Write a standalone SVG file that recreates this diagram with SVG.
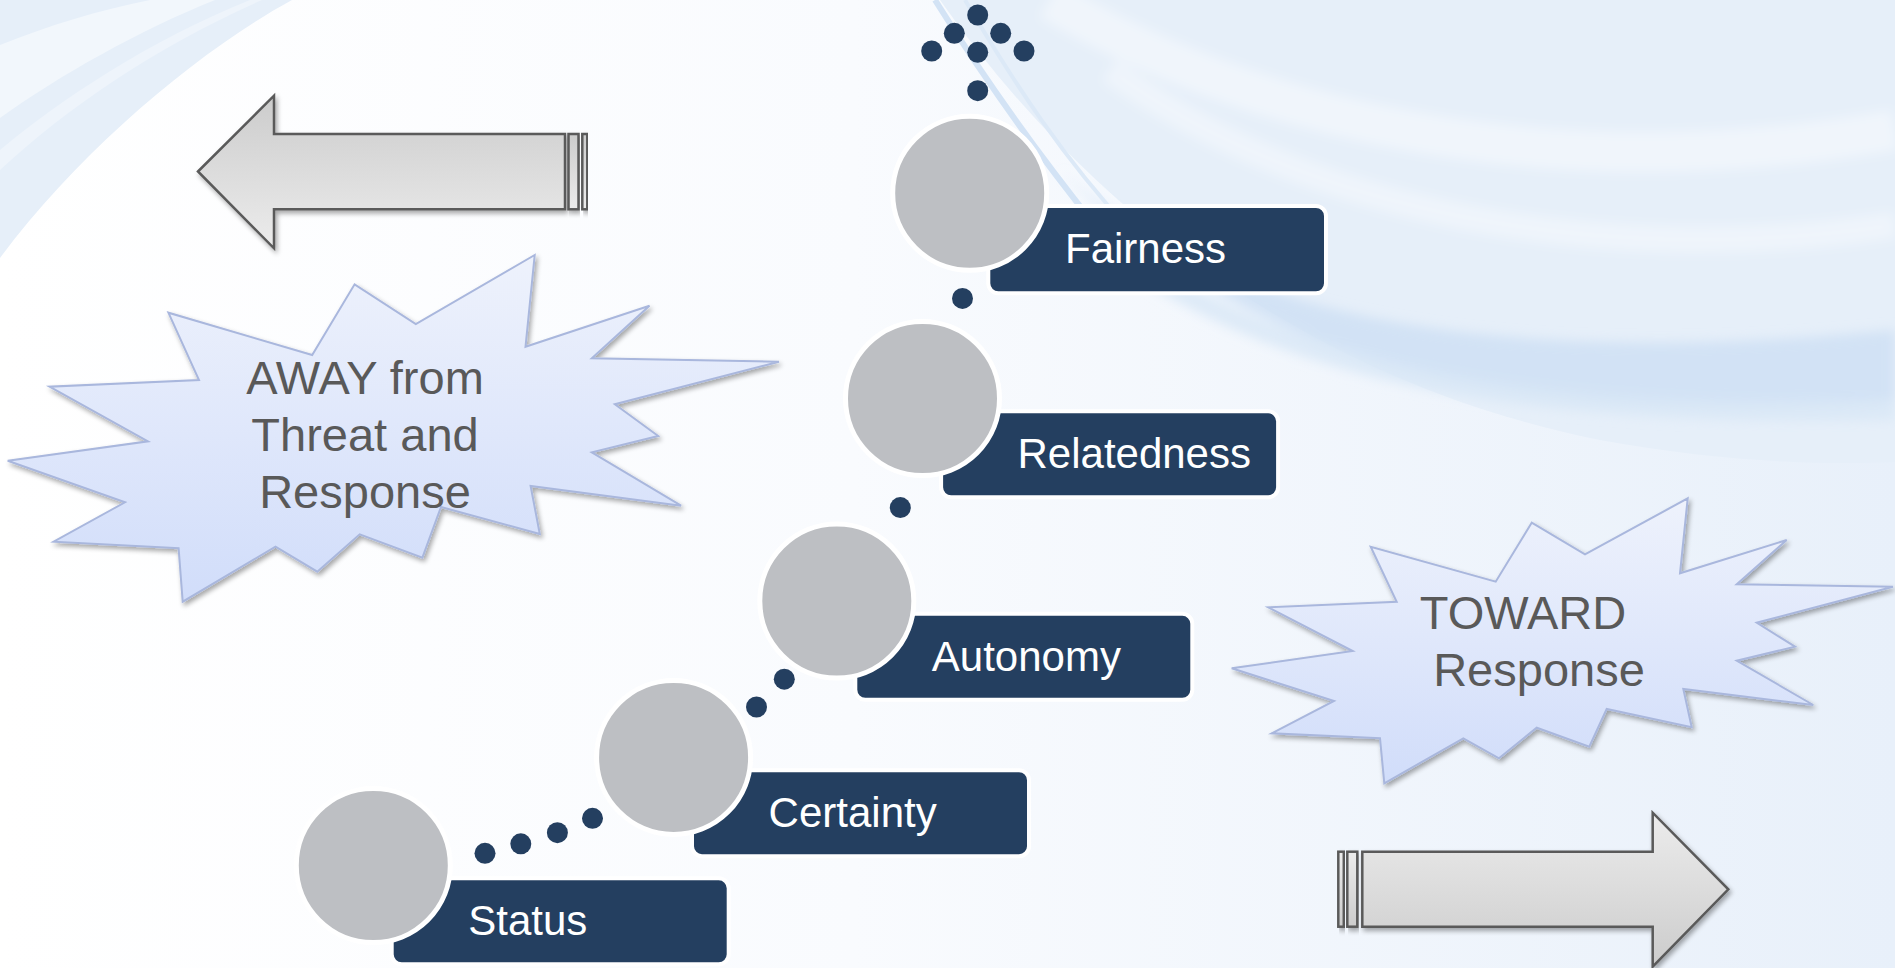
<svg xmlns="http://www.w3.org/2000/svg" width="1895" height="968" viewBox="0 0 1895 968">
<defs>
<style>
.lbl{font-family:"Liberation Sans",Arial,sans-serif;font-size:42px;fill:#ffffff}
.burst-t{font-family:"Liberation Sans",Arial,sans-serif;font-size:47px;fill:#595959;text-anchor:middle}
.box{fill:#243f60;stroke:#ffffff;stroke-width:4}
.disc{fill:#bdbfc3;stroke:#ffffff;stroke-width:5}
.dot{fill:#243f60}
.burst{fill:url(#gBurst);stroke:#a9b7dd;stroke-width:2;filter:url(#shadow)}
.arr{stroke:#5a5a5a;stroke-width:2.5;filter:url(#shadow)}
</style>
<linearGradient id="gBg" x1="0" y1="0" x2="1" y2="0">
<stop offset="0" stop-color="#ffffff"/>
<stop offset="0.45" stop-color="#f9fbfe"/>
<stop offset="1" stop-color="#e8f0fa"/>
</linearGradient>
<linearGradient id="gBurst" x1="0" y1="0" x2="0" y2="1">
<stop offset="0" stop-color="#eef2fc"/>
<stop offset="1" stop-color="#d1ddfa"/>
</linearGradient>
<linearGradient id="gArrL" x1="0" y1="0" x2="0" y2="1">
<stop offset="0" stop-color="#cccccc"/>
<stop offset="1" stop-color="#ececec"/>
</linearGradient>
<linearGradient id="gArrR" x1="0" y1="0" x2="0" y2="1">
<stop offset="0" stop-color="#ececec"/>
<stop offset="1" stop-color="#cccccc"/>
</linearGradient>
<filter id="shadow" x="-10%" y="-10%" width="120%" height="130%">
<feGaussianBlur in="SourceAlpha" stdDeviation="2.5"/>
<feOffset dx="2" dy="3" result="b"/>
<feComponentTransfer><feFuncA type="linear" slope="0.35"/></feComponentTransfer>
<feMerge><feMergeNode/><feMergeNode in="SourceGraphic"/></feMerge>
</filter>
<filter id="soft" x="-5%" y="-5%" width="110%" height="110%">
<feGaussianBlur stdDeviation="6"/>
</filter>
</defs>

<g id="background">
<rect x="0" y="0" width="1895" height="968" fill="url(#gBg)"/>
<path d="M0,0 L292,0 C200,50 80,150 0,258 Z" fill="#e6eff9"/>
<path d="M0,45 C50,25 100,10 150,0 L215,0 C140,30 60,75 0,118 Z" fill="#f2f7fc"/>
<path d="M0,150 C60,100 150,40 250,0 L262,0 C160,45 70,105 0,170 Z" fill="#eef4fb"/>
<path d="M940,0 C1080,200 1300,380 1600,440 C1720,462 1820,465 1895,462 L1895,0 Z" fill="#e6eff9"/>
<g filter="url(#soft)">
<path d="M1050,0 C1250,120 1550,190 1895,130" fill="none" stroke="#ffffff" stroke-width="40" stroke-opacity="0.4"/>
<path d="M1110,70 C1300,210 1600,270 1895,225" fill="none" stroke="#ffffff" stroke-width="26" stroke-opacity="0.35"/>
<path d="M1060,170 C1210,305 1450,372 1895,330 L1895,400 C1500,425 1250,365 1060,170 Z" fill="#cfe0f4" fill-opacity="0.85"/>
<path d="M1100,240 C1260,360 1480,420 1895,410" fill="none" stroke="#d8e7f6" stroke-width="20" stroke-opacity="0.8"/>
</g>
<path d="M935,0 C985,80 1035,150 1095,225" fill="none" stroke="#d3e3f5" stroke-width="6"/>
<path d="M965,0 C1015,85 1065,160 1130,230" fill="none" stroke="#dce9f7" stroke-width="4"/>
</g>

<g id="arrow-away">
<path class="arr" d="M198,171.5 L274,95.7 L274,134 L565,134 L565,209.3 L274,209.3 L274,248.3 Z" fill="url(#gArrL)"/>
<rect class="arr" x="568.5" y="134" width="10" height="75.3" fill="url(#gArrL)"/>
<rect class="arr" x="582.3" y="134" width="5" height="75.3" fill="url(#gArrL)"/>
</g>

<g id="arrow-toward">
<rect class="arr" x="1338.3" y="851.7" width="5.5" height="75" fill="url(#gArrR)"/>
<rect class="arr" x="1347.3" y="851.7" width="10" height="75" fill="url(#gArrR)"/>
<path class="arr" d="M1362.3,851.7 L1652.7,851.7 L1652.7,812.7 L1728.3,889.3 L1652.7,966.7 L1652.7,926.7 L1362.3,926.7 Z" fill="url(#gArrR)"/>
</g>

<g id="burst-away">
<polygon class="burst" points="534.7,255 525.5,346.7 649.5,305.7 591.8,358.3 779,361.7 614.8,404.3 658.2,436 591.8,452.3 681.1,505.7 530.6,486 539.8,534 441,507 422.4,557.7 359.7,534.3 317.3,571.7 275.5,546.7 182.7,601.7 178.6,548.3 53.6,541.7 125,502.3 7.7,460.7 148,441.3 49.5,386.7 199,380 168.4,312.7 312.2,355 354.6,284.3 415.8,324"/>
<text class="burst-t" x="365" y="394">AWAY from</text>
<text class="burst-t" x="365" y="451">Threat and</text>
<text class="burst-t" x="365" y="508">Response</text>
</g>

<g id="burst-toward">
<polygon class="burst" points="1531.7,522.7 1495.7,581.7 1370.7,546.7 1396.7,601.7 1268.3,607.3 1352.7,651 1231.7,668.3 1334,701 1271.7,733.3 1380,738.3 1384.3,783.3 1463.3,738.3 1499,758.3 1536.7,727.7 1589.3,746.7 1606.7,709 1691.7,727.3 1683.3,689 1813.3,705 1736.7,660.7 1795,646.7 1756.7,622.7 1893,586.7 1736.7,584.3 1786.7,540 1680,573.3 1687.7,498.3 1585,554.3"/>
<text class="burst-t" x="1523" y="629">TOWARD</text>
<text class="burst-t" x="1539" y="686">Response</text>
</g>

<g id="connectors">
<circle class="dot" cx="485" cy="853.3" r="10.5"/>
<circle class="dot" cx="520.8" cy="843.8" r="10.5"/>
<circle class="dot" cx="557.4" cy="832.7" r="10.5"/>
<circle class="dot" cx="592.5" cy="818.3" r="10.5"/>
<circle class="dot" cx="756.5" cy="707" r="10.5"/>
<circle class="dot" cx="784.3" cy="679.2" r="10.5"/>
<circle class="dot" cx="900.3" cy="507.6" r="10.5"/>
<circle class="dot" cx="962.5" cy="298.4" r="10.5"/>
<circle class="dot" cx="977.7" cy="90.7" r="10.5"/>
<circle class="dot" cx="931.7" cy="51" r="10.5"/>
<circle class="dot" cx="977.7" cy="52.3" r="10.5"/>
<circle class="dot" cx="1024" cy="51" r="10.5"/>
<circle class="dot" cx="954.3" cy="33.3" r="10.5"/>
<circle class="dot" cx="1000.7" cy="33.3" r="10.5"/>
<circle class="dot" cx="977.7" cy="15" r="10.5"/>
</g>

<g id="node-status">
<rect class="box" x="391.7" y="878.3" width="337" height="86" rx="10"/>
<circle class="disc" cx="373.3" cy="865.5" r="77"/>
<text class="lbl" x="468.3" y="935">Status</text>
</g>

<g id="node-certainty">
<rect class="box" x="692" y="770.2" width="337" height="86" rx="10"/>
<circle class="disc" cx="673.6" cy="757.4" r="77"/>
<text class="lbl" x="768.6" y="827">Certainty</text>
</g>

<g id="node-autonomy">
<rect class="box" x="855.3" y="613.8" width="337" height="86" rx="10"/>
<circle class="disc" cx="836.8" cy="601" r="77"/>
<text class="lbl" x="931.8" y="670.6">Autonomy</text>
</g>

<g id="node-relatedness">
<rect class="box" x="941.1" y="411.3" width="337" height="86" rx="10"/>
<circle class="disc" cx="922.5" cy="398.5" r="77"/>
<text class="lbl" x="1017.5" y="468.2">Relatedness</text>
</g>

<g id="node-fairness">
<rect class="box" x="988.3" y="206" width="337.7" height="87.3" rx="10"/>
<circle class="disc" cx="969.7" cy="193.3" r="77"/>
<text class="lbl" x="1065" y="263.3">Fairness</text>
</g>
</svg>
